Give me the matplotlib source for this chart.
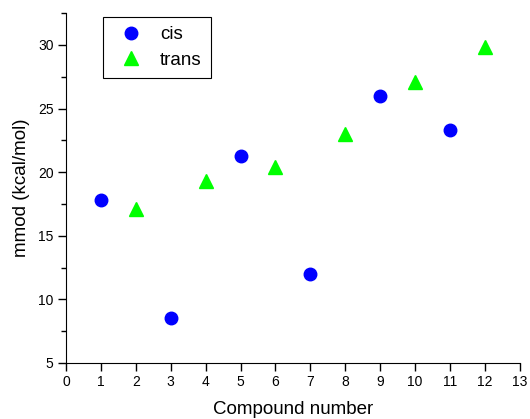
import matplotlib.pyplot as plt

plt.rcParams['font.family'] = ['Liberation Sans', 'DejaVu Sans']

cis_x = [1, 3, 5, 7, 9, 11]
cis_y = [17.8, 8.5, 21.3, 12.0, 26.0, 23.3]
trans_x = [2, 4, 6, 8, 10, 12]
trans_y = [17.1, 19.3, 20.4, 23.0, 27.1, 29.8]

fig = plt.figure(figsize=(5.3, 4.19), dpi=100)
ax = fig.add_axes([0.1245, 0.1337, 0.8565, 0.835])

ax.plot(cis_x, cis_y, 'o', color='#0000ff', markersize=9, label='cis', linestyle='none')
ax.plot(trans_x, trans_y, '^', color='#00ff00', markersize=10, label='trans', linestyle='none')

ax.set_xlim(0, 13)
ax.set_ylim(5, 32.5)
ax.set_xticks(range(0, 14))
ax.set_yticks([5, 10, 15, 20, 25, 30])
ax.set_yticks([7.5, 12.5, 17.5, 22.5, 27.5, 32.5], minor=True)
ax.tick_params(direction='out', length=5.5, width=1, labelsize=10, pad=3.5)
ax.tick_params(which='minor', direction='out', length=3.5, width=1)
for s in ['top', 'right']:
    ax.spines[s].set_visible(False)

ax.set_xlabel('Compound number', fontsize=13.5, labelpad=8)
ax.set_ylabel('mmod (kcal/mol)', fontsize=13.5, labelpad=6)

leg = ax.legend(loc='upper left', bbox_to_anchor=(0.0815, 0.99), fontsize=13.5,
                fancybox=False, edgecolor='black', framealpha=1, handletextpad=0.55,
                borderpad=0.5, labelspacing=0.45, borderaxespad=0)
leg.get_frame().set_linewidth(0.8)

fig.savefig('out.png', dpi=100)
